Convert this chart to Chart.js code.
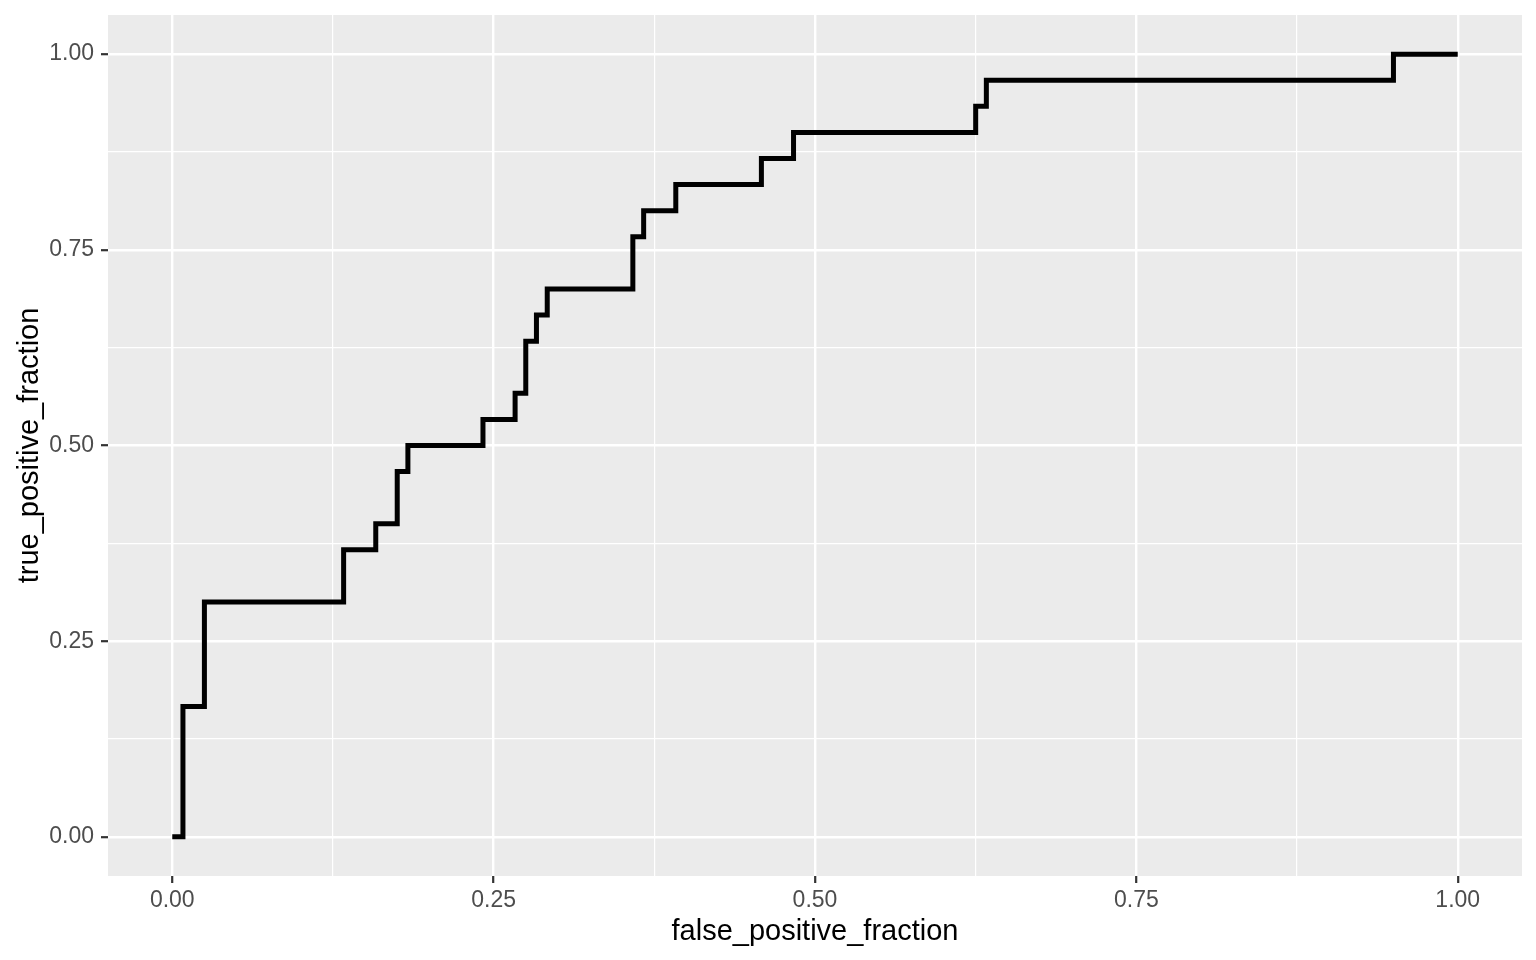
<!DOCTYPE html>
<html>
<head>
<meta charset="utf-8">
<script src="https://cdn.jsdelivr.net/npm/chart.js@4"></script>
<style>
  html, body { margin: 0; padding: 0; background: #fff; }
  #wrap { width: 1536px; height: 960px; }
</style>
</head>
<body>
<div id="wrap"><canvas id="rocChart" width="1536" height="960"></canvas></div>
<script>
// ROC curve corners (false positive fraction, true positive fraction)
const fpr = [0, 0.0083, 0.025, 0.1333, 0.1583, 0.175, 0.1833, 0.2417, 0.2667, 0.275, 0.2833,
  0.2917, 0.3583, 0.3667, 0.3917, 0.4583, 0.4833, 0.625, 0.6333, 0.95, 1.0];
const tpr = [0, 0.1667, 0.3, 0.3667, 0.4, 0.4667, 0.5, 0.5333, 0.5667, 0.6333, 0.6667,
  0.7, 0.7667, 0.8, 0.8333, 0.8667, 0.9, 0.9333, 0.9667, 1.0, 1.0];

const majorTicks = [0, 0.25, 0.5, 0.75, 1];
const gridTicks = [0, 0.125, 0.25, 0.375, 0.5, 0.625, 0.75, 0.875, 1];

const isMajor = v => majorTicks.some(m => Math.abs(m - v) < 1e-9);

const panelBg = {
  id: 'panelBg',
  beforeDraw(chart) {
    const {ctx, chartArea: a} = chart;
    ctx.save();
    ctx.fillStyle = '#EBEBEB';
    ctx.fillRect(a.left, a.top, a.right - a.left, a.bottom - a.top);
    ctx.restore();
  }
};

function axis(title, titlePad, labelPad, fit) {
  return {
    type: 'linear',
    min: -0.05,
    max: 1.05,
    afterBuildTicks: s => { s.ticks = gridTicks.map(v => ({value: v})); },
    afterFit: s => {
      fit(s);
      // panel edges are set by layout padding, not by label overhang
      s.paddingTop = 0; s.paddingBottom = 0; s.paddingLeft = 0; s.paddingRight = 0;
    },
    border: { display: false },
    grid: {
      color: '#FFFFFF',
      lineWidth: c => isMajor(c.tick.value) ? 2.4 : 1.2,
      tickColor: c => isMajor(c.tick.value) ? '#333333' : 'rgba(0,0,0,0)',
      tickWidth: 2.2,
      tickLength: 7,
      drawTicks: true
    },
    ticks: {
      autoSkip: false,
      maxRotation: 0,
      padding: labelPad,
      color: '#4D4D4D',
      font: { family: '"Liberation Sans", Arial, sans-serif', size: 23 },
      callback: v => isMajor(v) ? v.toFixed(2) : ''
    },
    title: {
      display: true,
      text: title,
      color: '#000000',
      padding: titlePad,
      font: { family: '"Liberation Sans", Arial, sans-serif', size: 29, lineHeight: 1.2 }
    }
  };
}

new Chart(document.getElementById('rocChart'), {
  type: 'scatter',
  data: {
    datasets: [{
      data: fpr.map((x, i) => ({x: x, y: tpr[i]})),
      showLine: true,
      stepped: 'before',
      borderColor: '#000000',
      borderWidth: 5,
      borderJoinStyle: 'miter',
      pointRadius: 0,
      fill: false
    }]
  },
  options: {
    responsive: false,
    animation: false,
    devicePixelRatio: 1,
    layout: { padding: { top: 15, right: 14, left: 0, bottom: 0 } },
    plugins: { legend: { display: false }, tooltip: { enabled: false } },
    scales: {
      x: axis('false_positive_fraction', { top: 0, bottom: 11 }, 4, s => { s.height = 84; }),
      y: axis('true_positive_fraction', { top: 13, bottom: 0 }, 7, s => { s.width = 108; })
    }
  },
  plugins: [panelBg]
});
</script>
</body>
</html>
